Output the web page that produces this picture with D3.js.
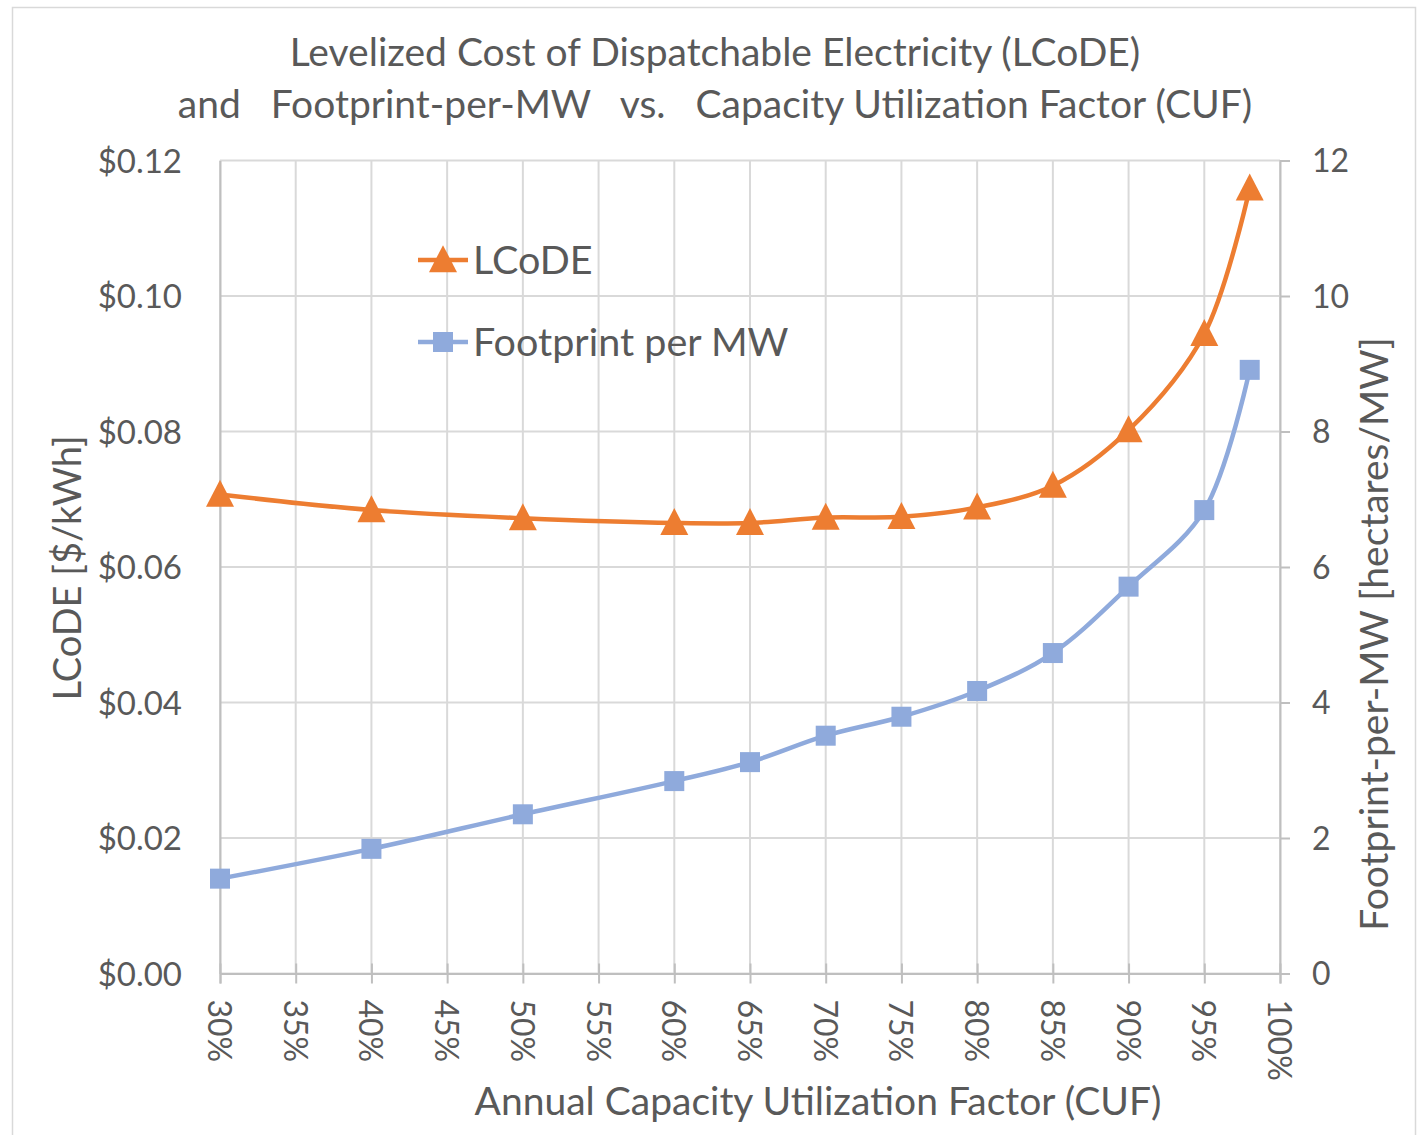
<!DOCTYPE html>
<html>
<head>
<meta charset="utf-8">
<script src="https://cdn.jsdelivr.net/npm/d3@7"></script>
<style>
  html, body { margin: 0; padding: 0; background: #fff; }
  svg text { font-family: Lato, "Open Sans", sans-serif; fill: #595959; }
</style>
</head>
<body>
<svg id="chart" width="1417" height="1135"></svg>
<script>
// ---- data ----
const cuf = [0.30, 0.40, 0.50, 0.60, 0.65, 0.70, 0.75, 0.80, 0.85, 0.90, 0.95, 0.98];
const lcode = [0.0707, 0.0684, 0.0672, 0.0665, 0.0665, 0.0673, 0.0674, 0.0688, 0.0720, 0.0802, 0.0944, 0.1159];
const footprint = [1.40, 1.84, 2.35, 2.84, 3.12, 3.51, 3.79, 4.17, 4.73, 5.71, 6.84, 8.91];
const xTicks = [0.30, 0.35, 0.40, 0.45, 0.50, 0.55, 0.60, 0.65, 0.70, 0.75, 0.80, 0.85, 0.90, 0.95, 1.00];
const leftTicks = [0, 0.02, 0.04, 0.06, 0.08, 0.10, 0.12];
const rightTicks = [0, 2, 4, 6, 8, 10, 12];
const titleLines = ["Levelized Cost of Dispatchable Electricity (LCoDE)",
                    "and   Footprint-per-MW   vs.   Capacity Utilization Factor (CUF)"];
const seriesNames = ["LCoDE", "Footprint per MW"];
const xTitle = "Annual Capacity Utilization Factor (CUF)";
const yLeftTitle = "LCoDE [$/kWh]";
const yRightTitle = "Footprint-per-MW [hectares/MW]";

// ---- layout ----
const L = 220, R = 1280, T = 160.5, B = 973.5;
const orange = "#ED7D31", blue = "#8FAADC", grid = "#D9D9D9", axisCol = "#BFBFBF";

const svg = d3.select("#chart");

// outer border
svg.append("rect").attr("x", 12.5).attr("y", 7.5).attr("width", 1403).attr("height", 1140)
  .attr("fill", "#fff").attr("stroke", "#D9D9D9").attr("stroke-width", 1.5);

const x = d3.scaleLinear().domain([0.30, 1.00]).range([L, R]);
const yL = d3.scaleLinear().domain([0, 0.12]).range([B, T]);
const yR = d3.scaleLinear().domain([0, 12]).range([B, T]);

// gridlines
const gg = svg.append("g");
gg.selectAll("line.v").data(xTicks).join("line")
  .attr("x1", d => x(d)).attr("x2", d => x(d)).attr("y1", T).attr("y2", B)
  .attr("stroke", grid).attr("stroke-width", 2);
gg.selectAll("line.h").data(leftTicks).join("line")
  .attr("x1", L).attr("x2", R).attr("y1", d => yL(d)).attr("y2", d => yL(d))
  .attr("stroke", grid).attr("stroke-width", 2);

// left axis
const gl = svg.append("g").attr("transform", `translate(${L},0)`)
  .call(d3.axisLeft(yL).tickValues(leftTicks).tickSize(0).tickPadding(38)
    .tickFormat(d => "$" + d3.format(".2f")(d)));
gl.select(".domain").attr("stroke", axisCol).attr("stroke-width", 2);
gl.selectAll("text").style("font-size", "33px").attr("fill", "#595959").attr("dy", "0.35em");

// right axis
const gr = svg.append("g").attr("transform", `translate(${R},0)`)
  .call(d3.axisRight(yR).tickValues(rightTicks).tickSize(10).tickPadding(22)
    .tickFormat(d3.format("d")));
gr.select(".domain").attr("stroke", axisCol).attr("stroke-width", 2);
gr.selectAll("line").attr("stroke", axisCol).attr("stroke-width", 2);
gr.selectAll("text").style("font-size", "32px").attr("fill", "#595959").attr("dy", "0.35em");

// bottom axis
const gb = svg.append("g").attr("transform", `translate(0,${B})`)
  .call(d3.axisBottom(x).tickValues(xTicks).tickSizeOuter(0).tickSize(10)
    .tickFormat(d3.format(".0%")));
gb.select(".domain").attr("stroke", axisCol).attr("stroke-width", 2);
gb.selectAll(".tick line").attr("stroke", axisCol).attr("stroke-width", 2).attr("y1", -10).attr("y2", 10);
gb.selectAll("text").style("font-size", "32px").attr("fill", "#595959")
  .attr("y", 0).attr("dy", 0)
  .attr("text-anchor", "start").attr("dominant-baseline", "central")
  .attr("transform", "translate(0,26) rotate(90)");

// lines
const lineL = d3.line().x((d, i) => x(cuf[i])).y(d => yL(d)).curve(d3.curveCatmullRom.alpha(0.5));
const lineR = d3.line().x((d, i) => x(cuf[i])).y(d => yR(d)).curve(d3.curveCatmullRom.alpha(0.5));

svg.append("path").datum(footprint).attr("d", lineR)
  .attr("fill", "none").attr("stroke", blue).attr("stroke-width", 4.5).attr("stroke-linejoin", "round");
svg.append("path").datum(lcode).attr("d", lineL)
  .attr("fill", "none").attr("stroke", orange).attr("stroke-width", 4.5).attr("stroke-linejoin", "round");

const sq = 20;
const triW = 28, triH = 27;
function triPath(cx, cy) {
  return `M${cx},${cy - triH * 0.55} L${cx + triW / 2},${cy + triH * 0.45} L${cx - triW / 2},${cy + triH * 0.45} Z`;
}

svg.append("g").selectAll("rect").data(footprint).join("rect")
  .attr("x", (d, i) => x(cuf[i]) - sq / 2).attr("y", d => yR(d) - sq / 2)
  .attr("width", sq).attr("height", sq).attr("fill", blue);
svg.append("g").selectAll("path").data(lcode).join("path")
  .attr("d", (d, i) => triPath(x(cuf[i]), yL(d))).attr("fill", orange);

// legend
const legend = svg.append("g");
const legItems = [
  { name: seriesNames[0], color: orange, y: 260, marker: "tri" },
  { name: seriesNames[1], color: blue, y: 342, marker: "sq" }
];
legItems.forEach(it => {
  legend.append("line").attr("x1", 418).attr("x2", 468).attr("y1", it.y).attr("y2", it.y)
    .attr("stroke", it.color).attr("stroke-width", 4.5);
  if (it.marker === "tri") legend.append("path").attr("d", triPath(443, it.y)).attr("fill", it.color);
  else legend.append("rect").attr("x", 443 - sq / 2).attr("y", it.y - sq / 2).attr("width", sq).attr("height", sq).attr("fill", it.color);
  legend.append("text").attr("x", 473).attr("y", it.y).attr("dy", "0.36em")
    .style("font-size", "39.5px").text(it.name);
});

// titles
svg.append("text").attr("x", 715).attr("y", 66).attr("text-anchor", "middle")
  .style("font-size", "39px").text(titleLines[0]);
svg.append("text").attr("x", 715).attr("y", 118).attr("text-anchor", "middle")
  .style("font-size", "39px").style("white-space", "pre").text(titleLines[1]);

svg.append("text").attr("x", 818).attr("y", 1115).attr("text-anchor", "middle")
  .style("font-size", "39px").text(xTitle);

svg.append("text").attr("transform", "translate(66,568) rotate(-90)")
  .attr("text-anchor", "middle").attr("dominant-baseline", "central")
  .style("font-size", "38px").text(yLeftTitle);

svg.append("text").attr("transform", "translate(1373,634) rotate(-90)")
  .attr("text-anchor", "middle").attr("dominant-baseline", "central")
  .style("font-size", "39px").text(yRightTitle);
</script>
</body>
</html>
